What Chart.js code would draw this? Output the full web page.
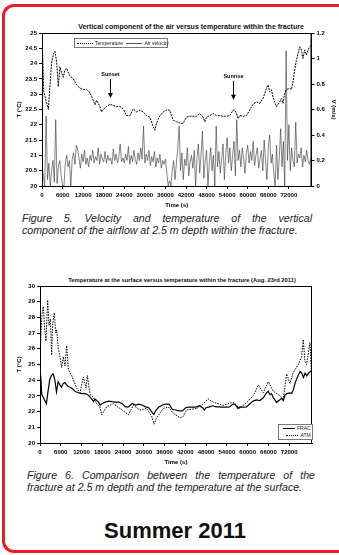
<!DOCTYPE html>
<html>
<head>
    <script src="https://cdn.jsdelivr.net/npm/chart.js"></script>
    <style>
        html, body { margin: 0; background: #fff; width: 339px; height: 555px; overflow: hidden; }
        body { position: relative; font-family: 'Liberation Sans', Arial, sans-serif; }
        #frame { position: absolute; left: 2px; top: 4px; width: 334px; height: 543px; border: 3px solid #ec1c24; border-right: 0; border-radius: 12px 0 0 12px; }
        canvas { position: absolute; left: 0; }
        .ttl { position: absolute; font-weight: bold; color: #111; white-space: nowrap; transform: translateX(-50%); }
        .cap { position: absolute; font-style: italic; font-size: 10.6px; line-height: 12px; color: #222; }
        .cap .l1 { text-align: justify; text-align-last: justify; }
        .leg { position: absolute; border: 1px solid #777; background: #fff; font-size: 5px; color: #222; white-space: nowrap; }
        .leg i { display: inline-block; vertical-align: middle; width: 16px; margin: 0 2px; }
        .dot { border-top: 1px dotted #000; }
        .sol { border-top: 1px solid #555; }
        #summer { position: absolute; left: 175px; top: 518px; transform: translateX(-50%); font-size: 22px; font-weight: bold; color: #111; }
    </style>
</head>
<body>
    <div id="frame"></div>

    <div class="ttl" style="left:191px;top:23px;font-size:7px;">Vertical component of the air versus temperature within the fracture</div>
    <canvas id="chart1" width="339" height="210" style="top:0"></canvas>
    <div class="leg" style="left:74px;top:38px;width:92px;height:8px;line-height:8px;">
        <i class="dot"></i>Temperature <i class="sol"></i>Air velocity
    </div>
    <div class="cap" style="left:22px;top:212px;width:290px;">
        <div class="l1">Figure 5. Velocity and temperature of the vertical</div>
        <div>component of the airflow at 2.5 m depth within the fracture.</div>
    </div>

    <div class="ttl" style="left:182px;top:277px;font-size:5.8px;">Temperature at the surface versus temperature within the fracture (Aug. 23rd 2011)</div>
    <canvas id="chart2" width="339" height="198" style="top:270px"></canvas>
    <div class="leg" style="left:278px;top:424px;width:33px;height:14px;line-height:6.5px;text-align:right;">
        <div><i class="sol" style="border-color:#000;width:12px"></i>FRAC&nbsp;</div>
        <div><i class="dot" style="width:12px"></i>ATM&nbsp;</div>
    </div>
    <div class="cap" style="left:27px;top:469px;width:288px;">
        <div class="l1">Figure 6. Comparison between the temperature of the</div>
        <div>fracture at 2.5 m depth and the temperature at the surface.</div>
    </div>

    <div id="summer">Summer 2011</div>

    <script>
        // temperature inside the fracture (2.5 m), time in s
        const fracTime = [200, 500, 1170, 1850, 2330, 2820, 3300, 3790, 4270, 4760, 5240, 5730, 6210, 6700, 7190, 7670, 8160, 9130,
            10100, 11070, 12040, 13010, 13980, 14950, 15440, 15920, 16900, 17380, 17870, 18840, 19810, 20780, 21750, 22720,
            23690, 24660, 25630, 26610, 27580, 28550, 29520, 30490, 31460, 32430, 32920, 33400, 34370, 35340, 36320, 37290,
            37770, 38260, 39230, 40200, 41170, 42140, 43110, 44080, 45050, 46030, 47000, 47480, 47970, 48940, 49910, 50880,
            51850, 52820, 53790, 54760, 55740, 56220, 56710, 57190, 57680, 58650, 59620, 60590, 61560, 62530, 63500, 64470,
            65450, 65930, 66420, 66900, 67390, 68360, 69330, 69810, 70300, 70790, 71270, 72240, 72730, 73210, 73700, 74180,
            74670, 75160, 75640, 76120, 76610, 77100, 77580, 78070, 78550];
        const fracTemp = [24.3, 23.1, 22.8, 22.5, 23.3, 24.05, 24.3, 24.4, 24.05, 23.25, 23.9, 23.7, 23.55, 23.8, 23.85, 23.7, 23.6, 23.5,
            23.3, 23.2, 23.15, 23.15, 23.05, 22.8, 22.65, 22.8, 22.6, 22.42, 22.5, 22.6, 22.67, 22.63, 22.6, 22.6,
            22.52, 22.3, 22.3, 22.52, 22.42, 22.48, 22.42, 22.3, 22.25, 21.93, 21.82, 22.05, 22.3, 22.42, 22.48, 22.48,
            22.3, 22.15, 22.1, 22.05, 22.05, 22.25, 22.28, 22.28, 22.28, 22.37, 22.25, 22.1, 22.25, 22.3, 22.37, 22.3,
            22.3, 22.28, 22.28, 22.3, 22.48, 22.48, 22.37, 22.2, 22.3, 22.28, 22.3, 22.48, 22.67, 22.75, 22.7, 22.86,
            23.19, 23.3, 23.08, 23.15, 22.9, 22.59, 22.75, 22.86, 22.7, 23.03, 23.15, 23.19, 23.15, 23.4, 23.8, 24.1,
            24.33, 24.55, 24.45, 24.17, 24.45, 24.28, 24.45, 24.55, 24.6];

        // vertical air velocity (m/s), one reading every velStep seconds
        const velStep = 400;
        const velValues = [
            0.15, 0.08, 0.0, 0.55, 0.05, 0.18, 0.0, 0.12, 0.2, 0.03,
            0.52, 0.02, 0.16, 0.2, 0.08, 0.0, 0.0, 0.18, 0.24, 0.15,
            0.2, 0.0, 0.21, 0.26, 0.17, 0.32, 0.29, 0.22, 0.14, 0.25,
            0.19, 0.28, 0.17, 0.22, 0.15, 0.24, 0.2, 0.28, 0.18, 0.23,
            0.2, 0.3, 0.17, 0.25, 0.21, 0.19, 0.27, 0.18, 0.24, 0.2,
            0.22, 0.17, 0.29, 0.2, 0.25, 0.18, 0.23, 0.33, 0.19, 0.22,
            0.18, 0.25, 0.2, 0.31, 0.17, 0.24, 0.19, 0.28, 0.21, 0.17,
            0.26, 0.2, 0.3, 0.21, 0.47, 0.18, 0.25, 0.2, 0.28, 0.16,
            0.23, 0.19, 0.27, 0.15, 0.22, 0.18, 0.25, 0.14, 0.2, 0.17,
            0.21, 0.1, 0.0, 0.04, 0.0, 0.12, 0.2, 0.05, 0.18, 0.3,
            0.47, 0.12, 0.26, 0.05, 0.21, 0.16, 0.3, 0.08, 0.19, 0.24,
            0.14, 0.28, 0.0, 0.22, 0.33, 0.1, 0.25, 0.43, 0.06, 0.2,
            0.28, 0.0, 0.18, 0.3, 0.12, 0.24, 0.0, 0.47, 0.15, 0.27,
            0.1, 0.22, 0.33, 0.05, 0.25, 0.38, 0.18, 0.3, 0.12, 0.24,
            0.35, 0.08, 0.52, 0.2, 0.28, 0.15, 0.3, 0.22, 0.1, 0.26,
            0.32, 0.18, 0.27, 0.2, 0.35, 0.16, 0.24, 0.3, 0.14, 0.22,
            0.28, 0.12, 0.36, 0.2, 0.05, 0.3, 0.4, 0.18, 0.25, 0.1,
            0.0, 0.32, 0.05, 0.22, 0.45, 0.15, 0.35, 0.0, 1.06, 0.2,
            0.48, 0.12, 0.3, 0.2, 0.15, 0.5, 0.18, 0.25, 0.22, 0.3,
            0.15, 0.24, 0.19, 0.28, 0.2, 0.17, 0.22];

        // surface (atmosphere) temperature
        const atmTime = [0, 290, 580, 960, 1350, 1730, 2210, 2600, 2990, 3370, 3660, 4140, 4530, 4820, 5300, 5780, 6260, 6740,
            7220, 7700, 8190, 9150, 10590, 11560, 12520, 13290, 13670, 14450, 15410, 16370, 17330, 17820, 19260, 21190,
            23110, 25520, 26960, 28890, 30820, 32260, 32940, 33700, 35630, 37080, 38520, 40450, 41410, 42370, 45260, 47190,
            48630, 50080, 52970, 55850, 57780, 59710, 61630, 63080, 64520, 65970, 67410, 69340, 70300, 71260, 72230, 73190,
            74630, 75600, 76080, 76560, 77040, 78000, 78480];
        const atmTemp = [25.3, 27.0, 28.2, 28.7, 27.3, 26.5, 29.1, 27.5, 27.9, 25.6, 27.6, 28.3, 27.0, 27.2, 26.0, 25.5, 24.8, 25.5,
            24.9, 26.2, 24.7, 24.3, 23.5, 23.2, 24.2, 23.5, 24.3, 23.1, 22.9, 22.5, 22.3, 21.8, 22.3, 22.5,
            22.2, 21.8, 22.4, 22.1, 22.2, 21.7, 21.2, 21.6, 22.2, 22.3, 21.9, 21.6, 21.7, 22.1, 22.2, 22.5,
            22.8, 22.6, 22.4, 22.6, 22.2, 22.6, 23.0, 23.7, 23.2, 23.9, 23.3, 23.0, 22.8, 24.4, 23.8, 24.5,
            25.0, 25.5, 26.6, 25.2, 25.0, 26.4, 24.5];

        const timeTicks = [0, 6000, 12000, 18000, 24000, 30000, 36000, 42000, 48000, 54000, 60000, 66000, 72000];

        const noteLabels = ['Sunset', 'Sunrise'];
        const noteTimes = [19800, 55700];
        const noteTemps = [22.81, 22.75];

        const timeMax = 78600;

        function pairs(xs, ys) {
            return ys.map((v, i) => ({ x: xs[i], y: v }));
        }
        const velPoints = velValues.map((v, i) => ({ x: i * velStep, y: v }));

        const tickFont = { family: 'Liberation Sans', size: 6, weight: 'bold' };
        const titleFont = { family: 'Liberation Sans', size: 6, weight: 'bold' };

        function axisBase() {
            return {
                grid: { display: true, drawOnChartArea: false, drawTicks: true, tickLength: 3, color: '#000' },
                border: { display: true, color: '#000' },
                ticks: {
                    font: tickFont, color: '#000', padding: 2,
                    callback: v => String(Math.round(v * 100) / 100)
                }
            };
        }

        function timeAxis(h, pad) {
            const a = axisBase();
            a.type = 'linear';
            a.min = 0;
            a.max = timeMax;
            a.ticks.maxRotation = 0;
            a.ticks.autoSkip = false;
            a.ticks.padding = 3;
            a.afterBuildTicks = s => { s.ticks = timeTicks.map(v => ({ value: v })); };
            a.title = { display: true, text: 'Time (s)', font: titleFont, color: '#000', padding: { top: 0, bottom: pad } };
            a.afterFit = s => { s.height = h; };
            return a;
        }

        const boxPlugin = {
            id: 'box',
            afterDraw(chart) {
                const a = chart.chartArea, ctx = chart.ctx;
                ctx.save();
                ctx.strokeStyle = '#000';
                ctx.lineWidth = 1;
                ctx.strokeRect(a.left + 0.5, a.top + 0.5, a.right - a.left - 1, a.bottom - a.top);
                ctx.restore();
            }
        };

        const notePlugin = {
            id: 'notes',
            afterDraw(chart) {
                const ctx = chart.ctx, xs = chart.scales.x, ys = chart.scales.y;
                ctx.save();
                ctx.fillStyle = '#000';
                ctx.strokeStyle = '#000';
                ctx.lineWidth = 1;
                ctx.font = 'bold 5.5px "Liberation Sans"';
                ctx.textAlign = 'center';
                for (let i = 0; i < noteLabels.length; i++) {
                    const x = Math.round(xs.getPixelForValue(noteTimes[i])) + 0.5;
                    const tip = ys.getPixelForValue(noteTemps[i]) - 2;
                    ctx.beginPath();
                    ctx.moveTo(x, tip - 19);
                    ctx.lineTo(x, tip - 4);
                    ctx.stroke();
                    ctx.beginPath();
                    ctx.moveTo(x - 2.5, tip - 5);
                    ctx.lineTo(x + 2.5, tip - 5);
                    ctx.lineTo(x, tip);
                    ctx.closePath();
                    ctx.fill();
                    ctx.fillText(noteLabels[i], x, tip - 22);
                }
                ctx.restore();
            }
        };

        // chart 1 : velocity and temperature in the fracture
        const yLeft1 = axisBase();
        yLeft1.position = 'left';
        yLeft1.min = 20; yLeft1.max = 25;
        yLeft1.ticks.stepSize = 0.5;
        yLeft1.title = { display: true, text: 'T (°C)', font: titleFont, color: '#000', padding: { top: 16, bottom: 0 } };
        yLeft1.afterFit = s => { s.width = 42; };

        const yRight1 = axisBase();
        yRight1.position = 'right';
        yRight1.min = 0; yRight1.max = 1.2;
        yRight1.ticks.stepSize = 0.2;
        yRight1.title = { display: true, text: 'V (m/s)', font: titleFont, color: '#000', padding: { top: 2, bottom: 0 } };
        yRight1.afterFit = s => { s.width = 27.5; };

        new Chart(document.getElementById('chart1'), {
            type: 'line',
            data: {
                datasets: [{
                    label: 'Temperature',
                    data: pairs(fracTime, fracTemp),
                    yAxisID: 'y',
                    borderColor: '#000',
                    borderWidth: 1,
                    borderDash: [2, 1],
                    pointRadius: 0,
                    order: 1
                }, {
                    label: 'Air velocity',
                    data: velPoints,
                    yAxisID: 'y2',
                    borderColor: '#333',
                    borderWidth: 0.6,
                    pointRadius: 0,
                    order: 2
                }]
            },
            options: {
                responsive: false,
                animation: false,
                devicePixelRatio: 1,
                layout: { padding: { top: 33, left: 0, right: 0, bottom: 0 } },
                plugins: { legend: { display: false }, tooltip: { enabled: false } },
                scales: { x: timeAxis(24, 1.4), y: yLeft1, y2: yRight1 }
            },
            plugins: [boxPlugin, notePlugin]
        });

        // chart 2 : surface vs fracture temperature
        const yLeft2 = axisBase();
        yLeft2.position = 'left';
        yLeft2.min = 20; yLeft2.max = 30;
        yLeft2.ticks.stepSize = 1;
        yLeft2.title = { display: true, text: 'T (°C)', font: titleFont, color: '#000', padding: { top: 16, bottom: 0 } };
        yLeft2.afterFit = s => { s.width = 40; };

        new Chart(document.getElementById('chart2'), {
            type: 'line',
            data: {
                datasets: [{
                    label: 'FRAC',
                    data: pairs(fracTime, fracTemp),
                    borderColor: '#000',
                    borderWidth: 1.2,
                    pointRadius: 0
                }, {
                    label: 'ATM',
                    data: pairs(atmTime, atmTemp),
                    borderColor: '#000',
                    borderWidth: 1,
                    borderDash: [1.5, 1.2],
                    pointRadius: 0
                }]
            },
            options: {
                responsive: false,
                animation: false,
                devicePixelRatio: 1,
                layout: { padding: { top: 16, left: 0, right: 27, bottom: 0 } },
                plugins: { legend: { display: false }, tooltip: { enabled: false } },
                scales: { x: timeAxis(25, 2.4), y: yLeft2 }
            },
            plugins: [boxPlugin]
        });
    </script>
</body>
</html>
